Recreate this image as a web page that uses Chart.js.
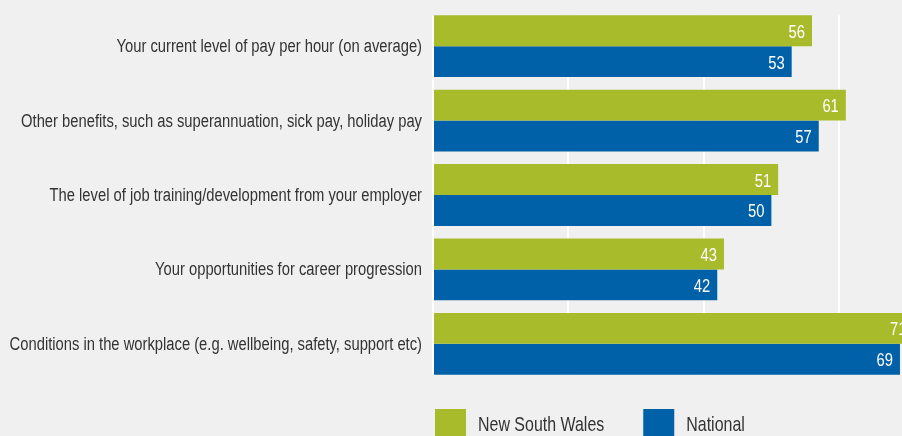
<!DOCTYPE html>
<html>
<head>
<meta charset="utf-8">
<script src="https://cdn.jsdelivr.net/npm/chart.js@4"></script>
<style>
  html, body { margin: 0; padding: 0; background: #f0f0f0; }
  #wrap { width: 902px; height: 436px; position: relative; }
</style>
</head>
<body>
<div id="wrap"><canvas id="chart-pay"></canvas></div>
<script>
// Satisfaction with pay & conditions — NSW vs national (% satisfied)
const categories = [
  'Your current level of pay per hour (on average)',
  'Other benefits, such as superannuation, sick pay, holiday pay',
  'The level of job training/development from your employer',
  'Your opportunities for career progression',
  'Conditions in the workplace (e.g. wellbeing, safety, support etc)'
];
const nswValues = [56, 61, 51, 43, 71];
const nationalValues = [53, 57, 50, 42, 69];
const gridTicks = [0, 20, 40, 60];

const COLORS = {
  bg:       '#f0f0f0',
  nsw:      '#a7bb2b',
  national: '#0060a8',
  text:     '#333333',
  grid:     '#ffffff',
};
const FONT = "'Liberation Sans', Arial, sans-serif";

// draw text squeezed horizontally (narrow look from a regular face)
function narrowText(ctx, text, x, y, sx) {
  ctx.save();
  ctx.translate(x, y);
  ctx.scale(sx, 1);
  ctx.fillText(text, 0, 0);
  ctx.restore();
}

// grid only spans the bars, so blank out the strip above/below them
const gridTrim = {
  id: 'gridTrim',
  beforeDatasetsDraw(chart) {
    const area = chart.chartArea;
    const first = chart.getDatasetMeta(0).data[0];
    const lastMeta = chart.getDatasetMeta(chart.data.datasets.length - 1);
    const last = lastMeta.data[lastMeta.data.length - 1];
    const top = first.y - first.height / 2;
    const bottom = last.y + last.height / 2;
    const ctx = chart.ctx;
    ctx.save();
    ctx.fillStyle = COLORS.bg;
    ctx.fillRect(area.left - 2, area.top - 2, area.width + 4, top - area.top + 2);
    ctx.fillRect(area.left - 2, bottom, area.width + 4, area.bottom - bottom + 2);
    ctx.restore();
  }
};

// category names right-aligned against the axis
const categoryLabels = {
  id: 'categoryLabels',
  afterDraw(chart) {
    const ctx = chart.ctx;
    const yScale = chart.scales.y;
    ctx.save();
    ctx.font = `18px ${FONT}`;
    ctx.fillStyle = COLORS.text;
    ctx.textAlign = 'right';
    ctx.textBaseline = 'alphabetic';
    chart.data.labels.forEach((label, i) => {
      narrowText(ctx, label, chart.chartArea.left - 11, yScale.getPixelForValue(i) + 6, 0.82);
    });
    ctx.restore();
  }
};

// white value labels just inside the end of each bar
const valueLabels = {
  id: 'valueLabels',
  afterDatasetsDraw(chart) {
    const ctx = chart.ctx;
    ctx.save();
    ctx.font = `18px ${FONT}`;
    ctx.fillStyle = '#ffffff';
    ctx.textAlign = 'right';
    ctx.textBaseline = 'alphabetic';
    chart.data.datasets.forEach((ds, i) => {
      chart.getDatasetMeta(i).data.forEach((bar, j) => {
        narrowText(ctx, String(ds.data[j]), bar.x - 7, bar.y + 7, 0.82);
      });
    });
    ctx.restore();
  }
};

// square-swatch legend under the plot, lined up with its left edge
const swatchLegend = {
  id: 'swatchLegend',
  afterDraw(chart) {
    const ctx = chart.ctx;
    let x = chart.chartArea.left + 2;
    const top = 409;
    const sx = 0.76;
    ctx.save();
    ctx.font = `21px ${FONT}`;
    ctx.textBaseline = 'alphabetic';
    ctx.textAlign = 'left';
    chart.data.datasets.forEach(ds => {
      ctx.fillStyle = ds.backgroundColor;
      ctx.fillRect(x, top, 31, 31);
      ctx.fillStyle = COLORS.text;
      narrowText(ctx, ds.label, x + 43, 431, sx);
      x += 43 + ctx.measureText(ds.label).width * sx + 39;
    });
    ctx.restore();
  }
};

new Chart(document.getElementById('chart-pay'), {
  type: 'bar',
  data: {
    labels: categories,
    datasets: [
      { label: 'New South Wales', data: nswValues, backgroundColor: COLORS.nsw },
      { label: 'National', data: nationalValues, backgroundColor: COLORS.national }
    ]
  },
  options: {
    indexAxis: 'y',
    responsive: true,
    maintainAspectRatio: false,
    animation: false,
    categoryPercentage: 0.83,
    barPercentage: 1.0,
    layout: { padding: { top: 9, bottom: 55, right: 0, left: 0 } },
    plugins: {
      legend: { display: false },
      tooltip: { enabled: false }
    },
    scales: {
      x: {
        min: 0,
        max: 69.3,
        afterBuildTicks: scale => { scale.ticks = gridTicks.map(v => ({ value: v })); },
        ticks: { display: false },
        border: { display: false },
        grid: { color: COLORS.grid, lineWidth: 2, drawTicks: false }
      },
      y: {
        afterFit: scale => {
          scale.width = 433;
          scale.paddingTop = 0;
          scale.paddingBottom = 0;
        },
        ticks: { display: false },
        border: { display: true, color: COLORS.grid, width: 2 },
        grid: { display: false, drawTicks: false }
      }
    }
  },
  plugins: [gridTrim, valueLabels, categoryLabels, swatchLegend]
});
</script>
</body>
</html>
